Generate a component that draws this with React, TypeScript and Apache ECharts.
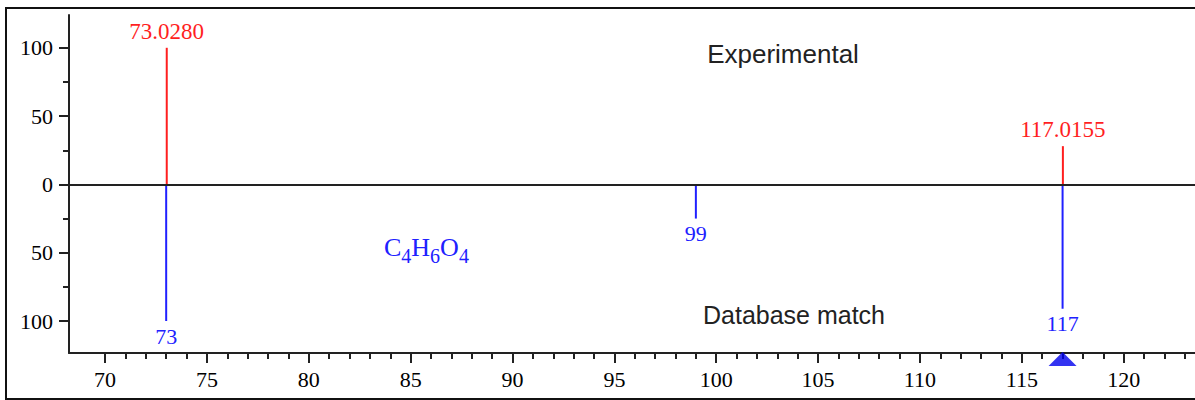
import React, { useEffect, useRef } from "react";
import * as echarts from "echarts";

// Experimental peaks (m/z, relative intensity)
const expMz = [73.028, 117.0155];
const expIntensity = [100, 28];
const expLabels = ["73.0280", "117.0155"];

// Database match peaks (drawn downward)
const dbMz = [73, 99, 117];
const dbIntensity = [100, 25, 91];
const dbLabels = ["73", "99", "117"];

// Precursor marker
const precursorMz = [117];

// Axis ticks
const xMajorTicks = [70, 75, 80, 85, 90, 95, 100, 105, 110, 115, 120];
const xMinorTicks = Array.from({ length: 53 }, (_, i) => 71 + i).filter((v) => v % 5 !== 0);
const yMajorTicks = [-100, -50, 0, 50, 100];
const yMinorTicks = [-75, -25, 25, 75];

const X_MIN = 68.23;
const X_MAX = 123.5;
const Y_MIN = -123.4;
const Y_MAX = 124;

const RED = "#ff1f1f";
const BLUE = "#2020ff";
const AXIS = "#222222";
const SERIF = '"Liberation Serif", "Times New Roman", serif';
const SANS = '"Liberation Sans", Arial, sans-serif';

export default function App() {
  const ref = useRef<HTMLDivElement>(null);

  useEffect(() => {
    if (!ref.current) return;
    const chart = echarts.init(ref.current, null, { renderer: "svg" });

    const makeStick = (labels: string[], color: string, down: boolean) =>
      (params: any, api: any) => {
        const x = api.value(0);
        const y = api.value(1);
        const base = api.coord([x, 0]);
        const tip = api.coord([x, down ? -y : y]);
        return {
          type: "group",
          children: [
            {
              type: "line",
              shape: { x1: base[0], y1: base[1], x2: tip[0], y2: tip[1] },
              style: { stroke: color, lineWidth: 2 },
            },
            {
              type: "text",
              x: tip[0],
              y: down ? tip[1] + 4 : tip[1] - 5,
              style: {
                text: labels[params.dataIndex],
                fill: color,
                fontSize: down ? 22 : 23,
                fontFamily: SERIF,
                align: "center",
                verticalAlign: down ? "top" : "bottom",
              },
            },
          ],
        };
      };

    const xCommon = {
      type: "value",
      min: X_MIN,
      max: X_MAX,
      splitLine: { show: false },
    };
    const yCommon = {
      type: "value",
      min: Y_MIN,
      max: Y_MAX,
      splitLine: { show: false },
    };

    chart.setOption({
      animation: false,
      backgroundColor: "#ffffff",
      grid: { left: 69, right: 0, top: 15, bottom: 47, containLabel: false },
      xAxis: [
        {
          ...xCommon,
          position: "bottom",
          axisLine: { onZero: false, lineStyle: { color: AXIS, width: 2 } },
          axisTick: { customValues: xMajorTicks, length: 10, lineStyle: { color: AXIS, width: 2 } },
          axisLabel: {
            customValues: xMajorTicks,
            fontFamily: SERIF,
            fontSize: 22,
            color: "#000",
            margin: 15,
          },
        },
        {
          ...xCommon,
          position: "bottom",
          axisLine: { show: false, onZero: false },
          axisTick: { customValues: xMinorTicks, length: 6, lineStyle: { color: AXIS, width: 2 } },
          axisLabel: { show: false },
        },
      ],
      yAxis: [
        {
          ...yCommon,
          position: "left",
          axisLine: { onZero: false, lineStyle: { color: AXIS, width: 2 } },
          axisTick: { customValues: yMajorTicks, length: 10, lineStyle: { color: AXIS, width: 2 } },
          axisLabel: {
            customValues: yMajorTicks,
            formatter: (v: number) => String(Math.abs(v)),
            fontFamily: SERIF,
            fontSize: 22,
            color: "#000",
            margin: 16,
          },
        },
        {
          ...yCommon,
          position: "left",
          axisLine: { show: false, onZero: false },
          axisTick: { customValues: yMinorTicks, length: 6, lineStyle: { color: AXIS, width: 2 } },
          axisLabel: { show: false },
        },
      ],
      series: [
        {
          type: "line",
          xAxisIndex: 0,
          yAxisIndex: 0,
          data: [],
          silent: true,
          markLine: {
            silent: true,
            symbol: "none",
            label: { show: false },
            lineStyle: { color: AXIS, width: 2, type: "solid" },
            data: [{ yAxis: 0 }],
          },
        },
        {
          type: "custom",
          name: "Experimental",
          xAxisIndex: 0,
          yAxisIndex: 0,
          clip: false,
          data: expMz.map((m, i) => [m, expIntensity[i]]),
          renderItem: makeStick(expLabels, RED, false),
          z: 3,
        },
        {
          type: "custom",
          name: "Database match",
          xAxisIndex: 0,
          yAxisIndex: 0,
          clip: false,
          data: dbMz.map((m, i) => [m, dbIntensity[i]]),
          renderItem: makeStick(dbLabels, BLUE, true),
          z: 3,
        },
        {
          type: "scatter",
          xAxisIndex: 0,
          yAxisIndex: 0,
          clip: false,
          symbol: "triangle",
          symbolSize: [28, 14],
          symbolOffset: [0, 6],
          itemStyle: { color: "#0000ee" },
          data: precursorMz.map((m) => [m, Y_MIN]),
          z: 4,
        },
      ],
      graphic: [
        {
          type: "rect",
          shape: { x: 6, y: 8, width: 1250, height: 391 },
          style: { fill: "none", stroke: "#111", lineWidth: 2 },
          silent: true,
        },
        {
          type: "text",
          x: 783,
          y: 54,
          style: {
            text: "Experimental",
            fontSize: 26,
            fontFamily: SANS,
            fill: "#222",
            align: "center",
            verticalAlign: "middle",
          },
        },
        {
          type: "text",
          x: 794,
          y: 315,
          style: {
            text: "Database match",
            fontSize: 25,
            fontFamily: SANS,
            fill: "#222",
            align: "center",
            verticalAlign: "middle",
          },
        },
        {
          type: "text",
          x: 384,
          y: 234,
          style: {
            text: "{n|C}{s|4}{n|H}{s|6}{n|O}{s|4}",
            rich: {
              n: { fontSize: 26, fontFamily: SERIF, fill: BLUE, lineHeight: 32, verticalAlign: "top" },
              s: { fontSize: 20, fontFamily: SERIF, fill: BLUE, lineHeight: 32, verticalAlign: "bottom" },
            },
          },
        },
      ],
    });

    return () => chart.dispose();
  }, []);

  return (
    <div
      ref={ref}
      style={{ position: "fixed", left: 0, top: 0, width: 1195, height: 400, background: "#fff" }}
    />
  );
}
